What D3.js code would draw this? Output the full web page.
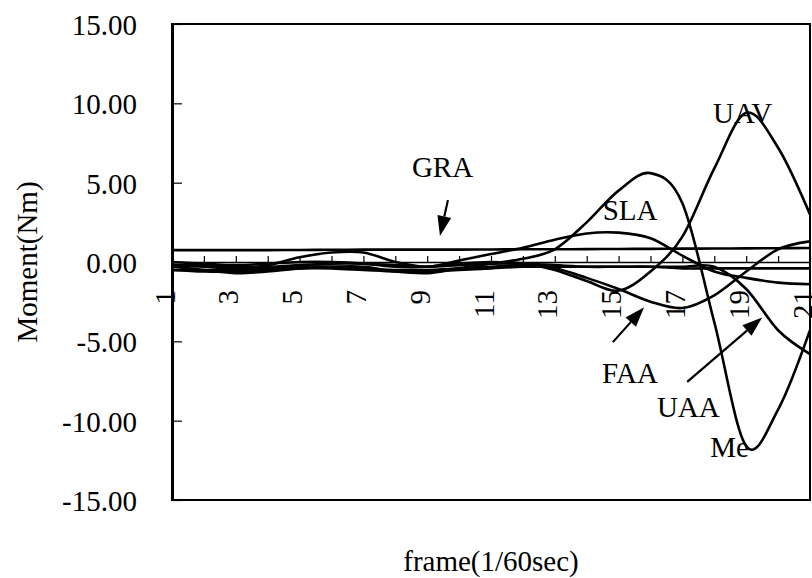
<!DOCTYPE html>
<html>
<head>
<meta charset="utf-8">
<script src="https://cdn.jsdelivr.net/npm/d3@7"></script>
<style>
  html, body { margin: 0; padding: 0; background: #fff; }
  svg { display: block; }
  text { font-family: "Liberation Serif", "DejaVu Serif", serif; fill: #000; }
</style>
</head>
<body>
<svg id="chart" width="812" height="578"></svg>
<script>
// ---------------- data ----------------
const frames = [1,2,3,4,5,6,7,8,9,10,11,12,13,14,15,16,17,18,19,20,21];
const xTickLabels = ["1","3","5","7","9","11","13","15","17","19","21"];
const yTicks = [-15, -10, -5, 0, 5, 10, 15];

const GRA = [0.75,0.75,0.75,0.75,0.76,0.77,0.78,0.78,0.78,0.78,0.79,0.80,0.80,0.81,0.82,0.83,0.84,0.85,0.86,0.87,0.88];
const SLA = [-0.2,-0.3,-0.4,-0.2,0.3,0.6,0.6,0.0,-0.3,0.1,0.5,0.9,1.4,1.8,1.85,1.5,0.4,-0.6,-1.0,-1.3,-1.4];
const Me  = [-0.3,-0.5,-0.7,-0.6,-0.4,-0.3,-0.3,-0.6,-0.7,-0.4,-0.1,0.2,0.8,2.5,4.5,5.6,3.7,-3.8,-11.6,-9.3,-4.3];
const UAV = [0.0,-0.1,-0.2,-0.1,0.0,0.0,-0.1,-0.3,-0.3,-0.1,0.0,-0.1,-0.5,-1.2,-1.8,-0.6,1.6,5.9,9.4,7.2,3.0];
const FAA = [-0.5,-0.5,-0.5,-0.4,-0.3,-0.3,-0.4,-0.5,-0.5,-0.4,-0.3,-0.2,-0.4,-1.0,-1.7,-2.5,-2.9,-2.1,-0.6,0.8,1.3];
const UAA = [-0.2,-0.2,-0.3,-0.3,-0.2,-0.1,-0.1,-0.2,-0.3,-0.2,-0.1,-0.1,-0.2,-0.3,-0.3,-0.3,-0.3,-0.3,-1.7,-4.3,-5.8];
const unlabeled = [-0.5,-0.6,-0.6,-0.5,-0.4,-0.4,-0.5,-0.6,-0.6,-0.5,-0.4,-0.3,-0.3,-0.3,-0.3,-0.3,-0.4,-0.4,-0.4,-0.4,-0.4];

const seriesNames = ["GRA","SLA","Me","UAV","FAA","UAA","unlabeled"];
const seriesValues = [GRA, SLA, Me, UAV, FAA, UAA, unlabeled];

// annotation labels (frame, value) and arrows (tail -> tip), in data units
const labelText  = ["GRA","SLA","UAV","FAA","UAA","Me"];
const labelFrame = [8.52, 14.5, 17.96, 14.48, 16.2, 17.87];
const labelValue = [5.35, 2.65, 8.75, -7.6, -9.8, -12.3];
const arrowTail = [[9.65, 3.9], [14.82, -5.05], [17.15, -7.55]];
const arrowTip  = [[9.4, 1.64], [15.8, -2.85], [19.5, -3.5]];

// ---------------- layout ----------------
const svg = d3.select("#chart");
const L = 172, R = 810, T = 24, B = 500;
const x = d3.scaleLinear().domain([1, 21]).range([L, R]);
const y = d3.scaleLinear().domain([-15, 15]).range([B, T]);
const FS = 29;
const fmt = d => d3.format(".2f")(d).replace("\u2212", "-");

// clip
svg.append("defs").append("clipPath").attr("id","clip")
  .append("rect").attr("x", L).attr("y", T).attr("width", R - L).attr("height", B - T);

// frame
svg.append("rect").attr("x", L).attr("y", T).attr("width", R - L).attr("height", B - T)
  .attr("fill", "none").attr("stroke", "#000").attr("stroke-width", 2);

// y axis
const yAxis = d3.axisLeft(y).tickValues(yTicks).tickFormat(fmt)
  .tickSizeInner(-10).tickSizeOuter(0).tickPadding(35);
const gy = svg.append("g").attr("transform", `translate(${L},0)`).call(yAxis);
gy.select(".domain").attr("stroke", "#000").attr("stroke-width", 3);
gy.selectAll(".tick line").attr("stroke", "#000").attr("stroke-width", 1.2);
gy.selectAll(".tick text").attr("font-size", FS).attr("font-family", "Liberation Serif")
  .attr("dy", "0.36em");

// x axis at value 0
const xAxis = d3.axisBottom(x).tickValues(frames)
  .tickFormat(d => xTickLabels.includes(String(d)) ? String(d) : "")
  .tickSizeInner(-6).tickSizeOuter(0).tickPadding(0);
const gx = svg.append("g").attr("transform", `translate(0,${y(0)})`).call(xAxis);
gx.select(".domain").attr("stroke", "#000").attr("stroke-width", 1.5);
gx.selectAll(".tick line").attr("stroke", "#000").attr("stroke-width", 1.2);
gx.selectAll(".tick text").attr("font-size", FS).attr("font-family", "Liberation Serif")
  .attr("text-anchor", "end").attr("dy", "0.35em").attr("y", 0)
  .attr("transform", "translate(-8,28) rotate(-90)");

// series lines
const line = d3.line().x((d, i) => x(frames[i])).y(d => y(d)).curve(d3.curveCatmullRom.alpha(0));
svg.append("g").attr("clip-path", "url(#clip)")
  .selectAll("path").data(seriesValues).join("path")
  .attr("d", d => line(d))
  .attr("fill", "none").attr("stroke", "#000").attr("stroke-width", 2.6)
  .attr("stroke-linejoin", "round").attr("stroke-linecap", "round")
  .attr("data-name", (d, i) => seriesNames[i]);

// labels
svg.append("g").selectAll("text").data(labelText).join("text")
  .attr("x", (d, i) => x(labelFrame[i])).attr("y", (d, i) => y(labelValue[i]))
  .attr("font-size", FS).text(d => d);

// arrows
const ag = svg.append("g");
arrowTail.forEach((t, i) => {
  const x0 = x(t[0]), y0 = y(t[1]);
  const x1 = x(arrowTip[i][0]), y1 = y(arrowTip[i][1]);
  const ang = Math.atan2(y1 - y0, x1 - x0);
  const hl = 20, hw = 7;
  const bx = x1 - hl * Math.cos(ang), by = y1 - hl * Math.sin(ang);
  ag.append("line").attr("x1", x0).attr("y1", y0).attr("x2", bx).attr("y2", by)
    .attr("stroke", "#000").attr("stroke-width", 2.2);
  const px = -Math.sin(ang) * hw, py = Math.cos(ang) * hw;
  ag.append("path")
    .attr("d", `M${x1},${y1}L${bx + px},${by + py}L${bx - px},${by - py}Z`)
    .attr("fill", "#000");
});

// axis titles
svg.append("text").attr("x", (L + R) / 2).attr("y", 571).attr("text-anchor", "middle")
  .attr("font-size", FS).text("frame(1/60sec)");
svg.append("text").attr("transform", `translate(37,${y(0)}) rotate(-90)`)
  .attr("text-anchor", "middle").attr("font-size", FS).text("Moment(Nm)");
</script>
</body>
</html>
